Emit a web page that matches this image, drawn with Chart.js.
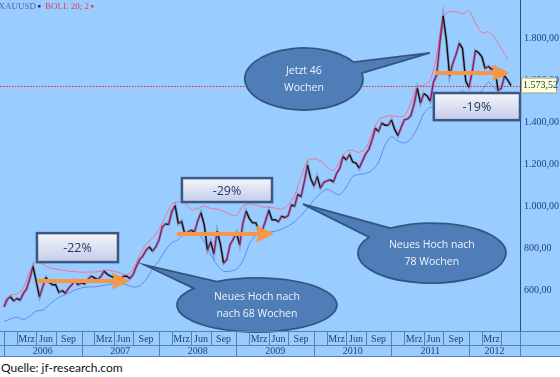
<!DOCTYPE html>
<html>
<head>
<meta charset="utf-8">
<script src="https://cdn.jsdelivr.net/npm/chart.js@4.4.1/dist/chart.umd.min.js"></script>
<style>
  html, body { margin: 0; padding: 0; background: #fff; }
  body { width: 560px; height: 377px; overflow: hidden; position: relative; }
  #wrap { position: absolute; left: 0; top: 0; width: 560px; height: 357px; background: #99ccff; }
  #src { position: absolute; left: 1px; top: 360px; font: 12px Lato, "Open Sans", sans-serif; color: #111; }
</style>
</head>
<body>
<div id="wrap"><canvas id="chart" width="560" height="357"></canvas></div>
<div id="src">Quelle: jf-research.com</div>
<script>
// ── Data: XAUUSD weekly chart (half-month steps from Jan 2006) ──
const START_YEAR = 2006;
const yearLabels = ['2006', '2007', '2008', '2009', '2010', '2011', '2012'];
const quarterLabels = ['Mrz', 'Jun', 'Sep'];
const priceTicks = [600, 800, 1000, 1200, 1400, 1600, 1800];
const lastPrice = 1573.52;

const closes = [
  520, 555, 568, 548, 560, 552, 584, 605, 655, 712, 640, 568, 615, 660, 636, 625, 625, 588, 598, 585, 608, 625, 646, 624,
  635, 628, 652, 666, 658, 650, 664, 690, 675, 666, 660, 654, 650, 666, 666, 655, 674, 712, 745, 762, 790, 805, 785, 805,
  838, 900, 915, 912, 975, 1002, 915, 928, 865, 876, 886, 876, 930, 968, 912, 790, 830, 772, 880, 820, 728, 745, 815, 842,
  872, 815, 920, 975, 940, 920, 920, 880, 885, 930, 980, 935, 935, 925, 952, 945, 955, 1005, 1000, 1055, 1045, 1115, 1195, 1130,
  1095, 1140, 1085, 1112, 1120, 1125, 1115, 1155, 1180, 1235, 1220, 1245, 1210, 1205, 1180, 1215, 1248, 1270, 1315, 1370, 1355, 1395, 1385, 1385,
  1410, 1365, 1335, 1375, 1410, 1415, 1430, 1485, 1560, 1490, 1535, 1525, 1500, 1590, 1625, 1780, 1905, 1790, 1620, 1680, 1722, 1775, 1750, 1595,
  1565, 1640, 1740, 1730, 1710, 1655, 1665, 1650, 1660, 1550, 1560, 1620, 1600, 1573.52
];

// Bollinger bands (20; 2), one value per month
const upperBand = [
  545, 575, 582, 610, 690, 735, 722, 706, 700, 695, 690, 688,
  685, 685, 686, 690, 695, 690, 682, 672, 700, 765, 820, 845,
  890, 950, 1010, 1020, 1015, 982, 988, 1000, 988, 985, 975, 960,
  955, 1000, 1010, 1005, 995, 995, 990, 985, 1005, 1050, 1140, 1215,
  1225, 1215, 1185, 1170, 1215, 1260, 1265, 1255, 1275, 1345, 1410, 1425,
  1430, 1425, 1430, 1490, 1570, 1575, 1600, 1720, 1900, 1925, 1925, 1915,
  1930, 1870, 1825, 1830, 1800, 1750, 1700
];
const lowerBand = [
  450, 462, 470, 460, 475, 500, 505, 530, 555, 572, 585, 600,
  610, 615, 615, 620, 625, 630, 630, 625, 615, 620, 650, 700,
  740, 790, 825, 840, 870, 875, 870, 830, 770, 720, 690, 690,
  700, 740, 820, 860, 865, 875, 880, 890, 905, 925, 955, 990,
  1030, 1060, 1080, 1065, 1055, 1090, 1140, 1150, 1155, 1170, 1210, 1290,
  1330, 1310, 1300, 1320, 1370, 1440, 1470, 1460, 1420, 1470, 1520, 1550,
  1520, 1520, 1550, 1590, 1560, 1535, 1545
];

// ── Annotations (month index from Jan 2006, price) ─────────────────
const boxes = [
  { text: '-22%', m0: 5.1,  m1: 17.65, p0: 871,  p1: 733 },
  { text: '-29%', m0: 27.55, m1: 41.5, p0: 1133, p1: 1019 },
  { text: '-19%', m0: 66.56, m1: 79.9, p0: 1538, p1: 1409 }
];
const arrows = [
  { m0: 5.1,  m1: 19.5,  p: 643 },
  { m0: 26.8, m1: 41.8,  p: 867 },
  { m0: 66.7, m1: 78.33, p: 1633 }
];
const bubbles = [
  { lines: ['Neues Hoch nach', 'nach 68 Wochen'], m: 39.16, p: 529, rx: 80, ry: 27, tipM: 21.8, tipP: 719, ang: -131, half: 11 },
  { lines: ['Neues Hoch nach', '78 Wochen'], m: 66.25, p: 776, rx: 74, ry: 30, tipM: 46.3, tipP: 1009, ang: -136, half: 12 },
  { lines: ['Jetzt 46', 'Wochen'], m: 46.44, p: 1605, rx: 59, ry: 31, tipM: 65.94, tipP: 1729, ang: -22, half: 11 }
];

const X_MIN = -0.62, X_MAX = 79.9;
const SERIF = '"Liberation Serif", "DejaVu Serif", serif';
const SANS = '"Open Sans", "Noto Sans", sans-serif';
const AXIS_TXT = '#23427a';
const TABLE_LINE = '#5d7fae';

function deNum(v) {
  const [a, b] = v.toFixed(2).split('.');
  return a.replace(/\B(?=(\d{3})+(?!\d))/g, '.') + ',' + b;
}

const pricePts = closes.map((v, i) => ({ x: i * 0.5, y: v }));
const upperPts = upperBand.map((v, i) => ({ x: i, y: v }));
const lowerPts = lowerBand.map((v, i) => ({ x: i, y: v }));

// quarter cells: Jan-Feb (no label), Mrz, Jun, Sep
const CELL_STARTS = [0, 2, 5, 8];
const CELL_MID = { Mrz: 3.5, Jun: 6.5, Sep: 10 };

function noPad(s) { s.paddingTop = 0; s.paddingBottom = 0; s.paddingLeft = 0; s.paddingRight = 0; }

// ── Plugin: red last-price line, table grid, callouts, labels ──────
const overlay = {
  id: 'overlay',
  beforeDatasetsDraw(chart) {
    const { ctx, chartArea: a, scales: { y } } = chart;
    const py = Math.round(y.getPixelForValue(lastPrice)) + 0.5;
    ctx.save();
    ctx.strokeStyle = '#f02030';
    ctx.lineWidth = 1;
    ctx.setLineDash([1.5, 1.5]);
    ctx.beginPath(); ctx.moveTo(a.left, py); ctx.lineTo(a.right, py); ctx.stroke();
    ctx.restore();
  },
  afterDatasetsDraw(chart) {
    const { ctx, scales: { x, y } } = chart;
    ctx.save();

    // callout bubbles
    bubbles.forEach(b => {
      const cx = x.getPixelForValue(b.m), cy = y.getPixelForValue(b.p);
      const tx = x.getPixelForValue(b.tipM), ty = y.getPixelForValue(b.tipP);
      const a0 = (b.ang + b.half) * Math.PI / 180, a1 = (b.ang - b.half) * Math.PI / 180 + Math.PI * 2;
      ctx.beginPath();
      ctx.ellipse(cx, cy, b.rx, b.ry, 0, a0, a1);
      ctx.lineTo(tx, ty);
      ctx.closePath();
      ctx.fillStyle = '#4f7db8';
      ctx.fill();
      ctx.lineWidth = 1.8;
      ctx.strokeStyle = '#34577f';
      ctx.stroke();
      ctx.fillStyle = '#eef3fa';
      ctx.font = '10.5px ' + SANS;
      ctx.textAlign = 'center';
      ctx.textBaseline = 'middle';
      b.lines.forEach((t, i) => ctx.fillText(t, cx, cy - 8 + i * 17));
    });

    // percentage boxes
    boxes.forEach(b => {
      const l = x.getPixelForValue(b.m0), r = x.getPixelForValue(b.m1);
      const t = y.getPixelForValue(b.p0), btm = y.getPixelForValue(b.p1);
      const g = ctx.createLinearGradient(0, t, 0, btm);
      g.addColorStop(0, '#f4f6fc');
      g.addColorStop(1, '#c4cce8');
      ctx.fillStyle = g;
      ctx.fillRect(l, t, r - l, btm - t);
      ctx.lineWidth = 2.5;
      ctx.strokeStyle = '#3b5782';
      ctx.strokeRect(l, t, r - l, btm - t);
      ctx.fillStyle = '#1f3864';
      ctx.font = '12.5px ' + SANS;
      ctx.textAlign = 'center';
      ctx.textBaseline = 'middle';
      ctx.fillText(b.text, (l + r) / 2, (t + btm) / 2 + 1);
    });

    // orange arrows
    arrows.forEach(ar => {
      const x0 = x.getPixelForValue(ar.m0), x1 = x.getPixelForValue(ar.m1);
      const py = y.getPixelForValue(ar.p);
      const head = 16, hh = 8.5, sw = 2;
      ctx.fillStyle = '#f79646';
      ctx.beginPath();
      ctx.moveTo(x0, py - sw);
      ctx.lineTo(x1 - head, py - sw);
      ctx.lineTo(x1 - head - 2, py - hh);
      ctx.lineTo(x1, py);
      ctx.lineTo(x1 - head - 2, py + hh);
      ctx.lineTo(x1 - head, py + sw);
      ctx.lineTo(x0, py + sw);
      ctx.closePath();
      ctx.fill();
    });
    ctx.restore();
  },
  afterDraw(chart) {
    const { ctx, chartArea: a, scales: { x, y } } = chart;
    const W = chart.width;
    const r1 = a.bottom, r2 = chart.scales.x2.top, r3 = chart.scales.x2.bottom;
    ctx.save();
    ctx.strokeStyle = TABLE_LINE;
    ctx.lineWidth = 1;
    ctx.setLineDash([]);
    const hline = yy => { ctx.beginPath(); ctx.moveTo(0, yy + 0.5); ctx.lineTo(W, yy + 0.5); ctx.stroke(); };
    const vline = (xx, ya, yb) => { xx = Math.round(xx) + 0.5; ctx.beginPath(); ctx.moveTo(xx, ya); ctx.lineTo(xx, yb); ctx.stroke(); };
    hline(r1); hline(r2); hline(r3 - 1);
    yearLabels.forEach((yl, k) => {
      CELL_STARTS.forEach(c => {
        const m = k * 12 + c;
        if (m >= X_MAX) return;
        vline(x.getPixelForValue(m), r1, c === 0 ? r3 : r2);
      });
    });
    vline(a.right, r1, r3);

    // last price tag on the right axis
    const py = y.getPixelForValue(lastPrice);
    ctx.fillStyle = '#ffffd8';
    ctx.fillRect(a.right + 1, py - 8, 35, 15);
    ctx.strokeStyle = '#a8a890';
    ctx.strokeRect(a.right + 1.5, py - 7.5, 35, 15);
    ctx.fillStyle = '#1a2a50';
    ctx.font = '10px ' + SERIF;
    ctx.textAlign = 'left';
    ctx.textBaseline = 'middle';
    ctx.fillText(deNum(lastPrice), a.right + 3, py);

    // header: symbol and indicator, each followed by a small square
    ctx.font = '9px ' + SERIF;
    ctx.textBaseline = 'middle';
    let hx = -1.5;
    [['XAUUSD', '#5565a8', '#28307a'], ['BOLL 20; 2', '#e2404e', '#e2404e']].forEach(([t, c, sq]) => {
      ctx.fillStyle = c;
      ctx.fillText(t, hx, 6.5);
      hx += ctx.measureText(t).width + 2;
      ctx.fillStyle = sq;
      ctx.fillRect(hx, 5, 2.5, 2.5);
      hx += 7;
    });
    ctx.restore();
  }
};

// ── Chart ───────────────────────────────────────────────────────────
const monthTicks = [];
yearLabels.forEach((yl, k) => quarterLabels.forEach(q => {
  const v = k * 12 + CELL_MID[q];
  if (v < X_MAX - 2) monthTicks.push({ value: v });
}));
const yearTicks = yearLabels.map((yl, k) => ({ value: (k * 12 + Math.min(k * 12 + 12, X_MAX)) / 2 }));

new Chart(document.getElementById('chart'), {
  type: 'line',
  data: {
    datasets: [
      {
        label: 'XAUUSD',
        data: pricePts,
        borderWidth: 1.4,
        borderColor: '#111',
        segment: { borderColor: c => c.p1.parsed.y > c.p0.parsed.y ? '#a3145c' : '#111' },
        pointRadius: 0,
        tension: 0
      },
      {
        label: 'wick',
        data: pricePts,
        borderWidth: 3,
        borderColor: 'rgba(80,95,120,0.35)',
        pointRadius: 0,
        tension: 0
      },
      { label: 'BOLL upper', data: upperPts, borderWidth: 1, borderColor: '#f27490', pointRadius: 0, tension: 0.3 },
      { label: 'BOLL lower', data: lowerPts, borderWidth: 1, borderColor: '#5e8cf2', pointRadius: 0, tension: 0.3 }
    ]
  },
  options: {
    responsive: false,
    animation: false,
    layout: { padding: 0 },
    plugins: { legend: { display: false }, tooltip: { enabled: false } },
    scales: {
      x: {
        type: 'linear', position: 'bottom', min: X_MIN, max: X_MAX,
        grid: { display: false, drawTicks: false }, border: { display: false },
        afterBuildTicks: s => { s.ticks = monthTicks.slice(); },
        afterFit: s => { s.height = 14; noPad(s); },
        ticks: {
          autoSkip: false, maxRotation: 0, padding: 2, color: AXIS_TXT,
          font: { family: SERIF, size: 10 },
          callback: v => { const r = ((v % 12) + 12) % 12; return r === 3.5 ? 'Mrz' : r === 6.5 ? 'Jun' : 'Sep'; }
        }
      },
      x2: {
        type: 'linear', position: 'bottom', min: X_MIN, max: X_MAX,
        grid: { display: false, drawTicks: false }, border: { display: false },
        afterBuildTicks: s => { s.ticks = yearTicks.slice(); },
        afterFit: s => { s.height = 12; noPad(s); },
        ticks: {
          autoSkip: false, maxRotation: 0, padding: 0, color: AXIS_TXT,
          font: { family: SERIF, size: 10 },
          callback: v => String(START_YEAR + Math.floor(v / 12))
        }
      },
      y: {
        position: 'right', min: 405, max: 1981,
        grid: { display: false, drawTicks: false },
        border: { display: true, color: '#2c4a7a', dash: [1, 2], width: 1 },
        afterBuildTicks: s => { s.ticks = priceTicks.map(v => ({ value: v })); },
        afterFit: s => { s.width = 40; noPad(s); },
        ticks: {
          padding: 4, color: AXIS_TXT,
          font: { family: SERIF, size: 10 },
          callback: v => deNum(v)
        }
      }
    }
  },
  plugins: [overlay]
});
</script>
</body>
</html>
